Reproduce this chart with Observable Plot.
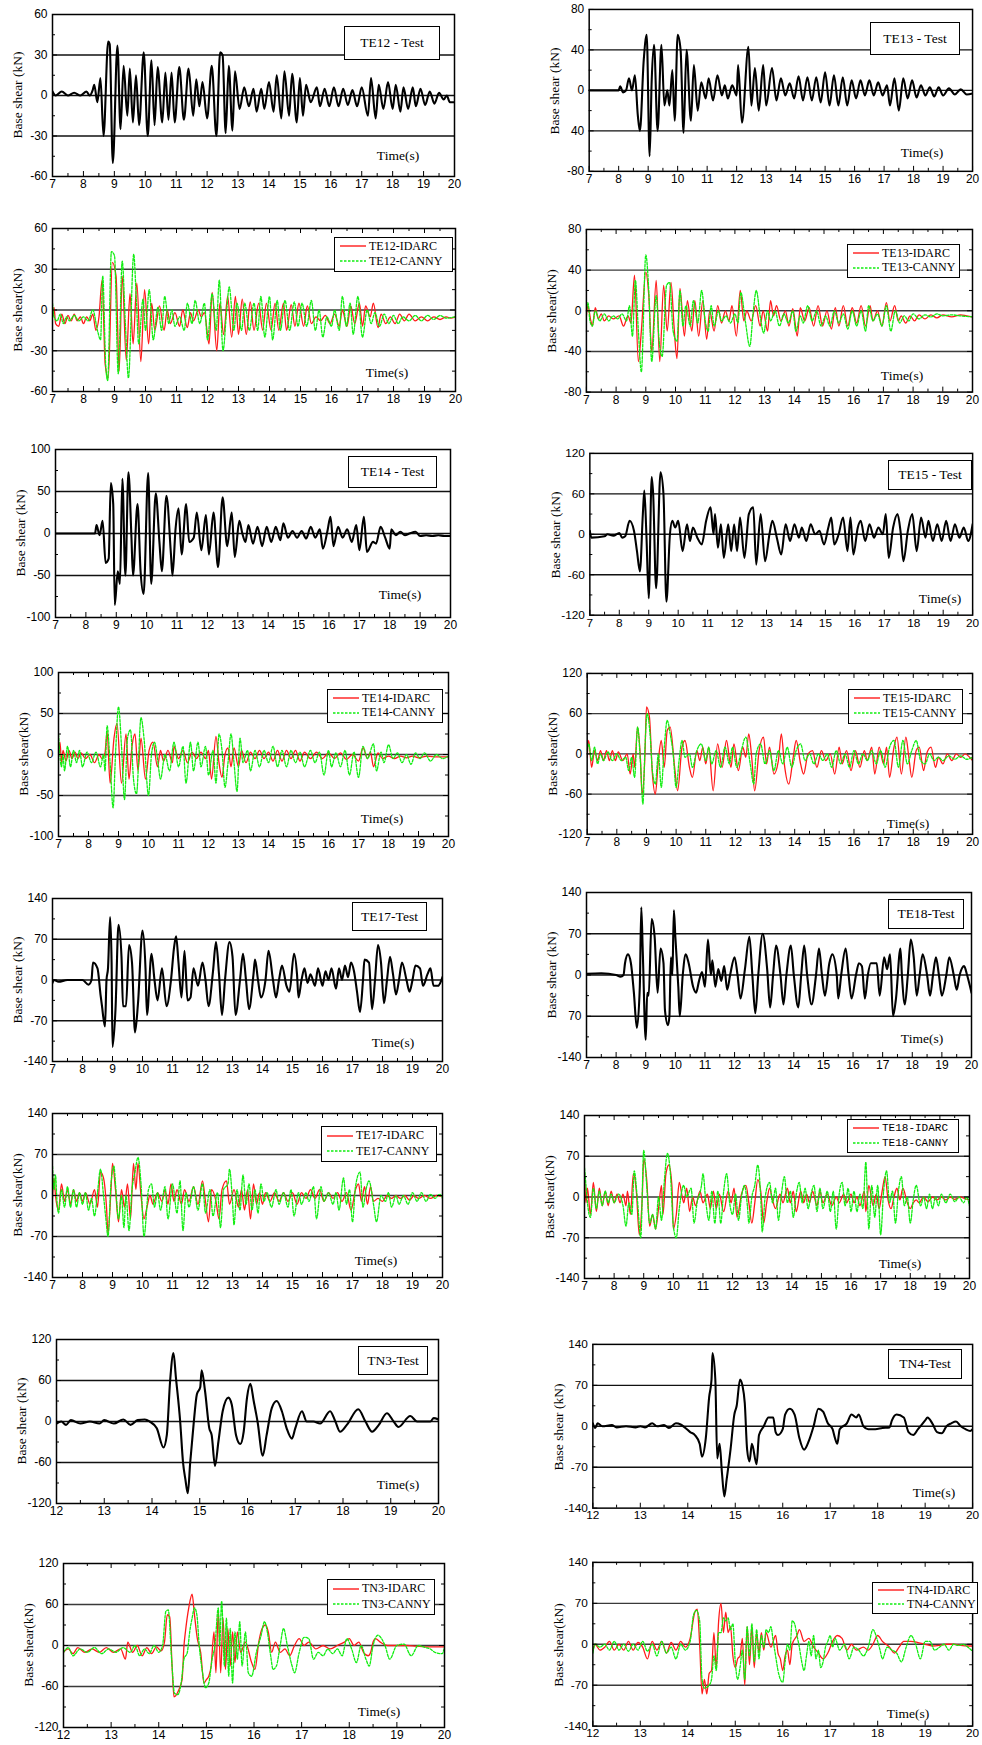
<!DOCTYPE html>
<html><head><meta charset="utf-8">
<script src="https://cdn.jsdelivr.net/npm/d3@7"></script>
<script src="https://cdn.jsdelivr.net/npm/@observablehq/plot@0.6"></script>
<style>
body{margin:0;background:#fff;}
#page{position:relative;width:982px;height:1745px;overflow:hidden;background:#fff;}
.panel{position:absolute;}
.box{position:absolute;background:#fff;border:1.5px solid #000;box-sizing:border-box;font-family:"Liberation Serif","Times New Roman",serif;color:#000;}
.ttl{display:flex;align-items:center;justify-content:center;font-size:13.5px;}
.row{position:absolute;left:0;right:0;height:14px;display:flex;align-items:center;font-size:12px;white-space:nowrap;}
.row svg{margin-left:5px;margin-right:3px;flex:none;}
.tlabel{position:absolute;font-family:"Liberation Serif",serif;font-size:13.5px;transform:translate(-50%,-50%);white-space:nowrap;}
.ylab{position:absolute;font-family:"Liberation Serif",serif;font-size:13.5px;transform:translate(-50%,-50%) rotate(-90deg);white-space:nowrap;}
</style></head>
<body><div id="page"></div>
<script>
// ---------- tick labels ----------
const teTicks = [7,8,9,10,11,12,13,14,15,16,17,18,19,20];
const tnTicks = [12,13,14,15,16,17,18,19,20];
const yLab60 = ["-60","-30","0","30","60"];
const yLab80test = ["-80","40","0","40","80"];
const yLab80 = ["-80","-40","0","40","80"];
const yLab100 = ["-100","-50","0","50","100"];
const yLab120 = ["-120","-60","0","60","120"];
const yLab140 = ["-140","-70","0","70","140"];
const yLab140test18 = ["-140","70","0","70","140"];

// ---------- series: [time, base shear, ...] ----------
const te12Test = [7,3,7.1,0,7.3,3,7.5,0,7.7,2,7.9,0,8.1,3,8.2,0,8.3,4,8.35,8,8.45,-5,8.55,13,8.65,-30,8.8,40,8.85,38,8.95,-50,9.1,37,9.2,-25,9.3,22,9.42,-15,9.5,20,9.6,-20,9.7,15,9.8,-22,9.95,32,10.08,-30,10.2,26,10.3,-22,10.4,21,10.55,-20,10.65,17,10.75,-18,10.85,17,10.95,-20,11.1,21,11.25,-18,11.4,20,11.55,-15,11.65,12,11.75,-8,11.85,10,12,-17,12.15,22,12.3,-30,12.42,32,12.5,30,12.6,-28,12.7,22,12.82,-26,12.9,18,13.05,-10,13.2,6,13.35,-8,13.5,5,13.6,-12,13.75,5,13.85,-10,14,10,14.15,-12,14.25,15,14.4,-17,14.5,18,14.65,-15,14.75,16,14.9,-20,15,13,15.1,-15,15.2,8,15.35,-5,15.55,6,15.65,-8,15.8,5,15.95,-8,16.1,6,16.25,-8,16.4,5,16.55,-7,16.7,4,16.85,-8,17,6,17.2,-15,17.3,13,17.45,-17,17.55,8,17.7,-10,17.85,10,18,-10,18.1,8,18.25,-12,18.35,6,18.5,-10,18.65,6,18.75,-8,18.9,5,19.05,-7,19.2,3,19.35,-6,19.5,2,19.65,-3,19.75,0,19.85,-5,20,-5];
const te12Idarc = [7,-5,7.05,2,7.1,-10,7.2,-12,7.3,-3,7.4,-10,7.5,-4,7.6,-8,7.7,-3,7.8,-8,7.9,-5,8,-10,8.1,-5,8.2,-8,8.3,-3,8.4,-15,8.5,-5,8.6,22,8.7,-40,8.8,-50,8.93,35,9.05,25,9.15,-45,9.25,25,9.38,-37,9.5,12,9.6,-25,9.72,20,9.85,-38,9.97,15,10.1,-25,10.2,5,10.3,-15,10.45,3,10.6,-15,10.7,0,10.8,-10,10.95,-2,11.1,-12,11.2,0,11.35,-13,11.45,-2,11.55,-8,11.7,0,11.8,-5,11.9,-2,12.05,-25,12.15,13,12.3,-30,12.4,5,12.52,-18,12.65,10,12.78,-20,12.9,10,13,-18,13.12,8,13.25,-18,13.38,6,13.5,-15,13.65,5,13.78,-15,13.9,5,14.05,-15,14.18,5,14.3,-15,14.45,5,14.55,-15,14.7,4,14.82,-12,14.95,5,15.1,-12,15.22,3,15.35,-10,15.5,-5,15.65,-8,15.8,-4,15.95,-10,16.1,-3,16.25,-12,16.35,0,16.5,-12,16.62,3,16.75,-10,16.9,5,17,-12,17.1,3,17.25,-5,17.35,5,17.5,-13,17.6,-3,17.75,-10,17.9,-5,18.05,-10,18.2,-3,18.35,-8,18.5,-3,18.7,-8,18.9,-5,19.1,-8,19.3,-5,19.5,-7,19.7,-5,19.85,-6,20,-5];
const te12Canny = [7,5,7.05,-5,7.15,-8,7.25,-3,7.35,-10,7.45,-5,7.55,-8,7.7,-4,7.85,-8,8,-5,8.15,-8,8.3,0,8.45,-15,8.55,-22,8.62,25,8.72,-42,8.78,-52,8.9,43,9,40,9.12,-47,9.25,36,9.35,-10,9.45,-50,9.62,41,9.7,10,9.78,-25,9.92,8,10,-15,10.12,15,10.25,-22,10.4,2,10.52,-15,10.62,10,10.75,-10,10.85,0,10.95,-12,11.1,-5,11.25,-15,11.35,5,11.5,-10,11.6,7,11.75,-10,11.9,5,12,-22,12.15,12,12.28,-15,12.38,22,12.5,-30,12.62,0,12.7,17,12.85,-15,12.95,5,13.1,-15,13.2,5,13.35,-15,13.5,5,13.62,-15,13.72,10,13.85,-20,14,10,14.1,-22,14.25,7,14.35,-15,14.5,7,14.65,-15,14.8,6,14.92,-12,15.05,5,15.2,-12,15.35,7,15.48,-15,15.6,0,15.72,-20,15.85,-5,16,-12,16.1,0,16.25,-15,16.35,10,16.48,-12,16.6,5,16.7,-18,16.85,10,17,-20,17.15,0,17.28,-10,17.4,-2,17.55,-12,17.7,-3,17.85,-10,18,-4,18.15,-10,18.3,-5,18.5,-8,18.7,-4,18.9,-8,19.1,-4,19.3,-7,19.5,-4,19.7,-6,20,-5];

const te13Test = [7,0,8,0,8.05,4,8.15,-2,8.25,0,8.35,12,8.45,0,8.55,15,8.65,-25,8.72,-40,8.85,30,8.95,55,9.05,-65,9.12,10,9.2,45,9.32,-40,9.45,45,9.55,-15,9.65,0,9.72,-15,9.82,20,9.9,-30,10,55,10.1,40,10.2,-42,10.3,40,10.45,-30,10.55,25,10.68,-20,10.8,8,10.95,-8,11.05,12,11.2,-10,11.35,15,11.5,-5,11.6,5,11.7,-8,11.85,5,12,-5,12.05,25,12.18,-32,12.4,43,12.5,-15,12.62,22,12.75,-20,12.9,25,13,-15,13.2,22,13.35,-10,13.5,12,13.65,-5,13.8,7,13.95,-8,14.1,14,14.25,-10,14.4,13,14.55,-10,14.7,13,14.85,-12,15,18,15.15,-15,15.3,15,15.45,-15,15.6,13,15.75,-15,15.9,10,16.05,-8,16.2,10,16.35,-5,16.5,10,16.65,-5,16.8,8,16.95,-5,17.1,5,17.2,-15,17.35,12,17.5,-20,17.65,12,17.8,-8,17.95,10,18.1,-7,18.25,5,18.4,-5,18.55,3,18.7,-6,18.85,3,19,-5,19.2,2,19.4,-4,19.6,1,19.8,-4,20,-3];
const te13Idarc = [7,-5,7.05,5,7.15,-10,7.2,-15,7.3,3,7.4,-8,7.5,-3,7.6,-10,7.75,-5,7.9,-8,8.1,-5,8.25,-15,8.4,-5,8.5,-12,8.62,35,8.75,-50,8.85,-20,9,38,9.1,15,9.2,-40,9.35,30,9.47,-50,9.6,25,9.72,-20,9.85,28,9.95,-15,10.05,-47,10.15,22,10.3,-25,10.4,10,10.55,-20,10.65,10,10.78,-25,10.92,10,11.05,-28,11.15,0,11.3,-20,11.42,5,11.55,-12,11.68,0,11.8,-10,11.9,5,12.05,-25,12.18,20,12.3,-10,12.4,0,12.55,-10,12.7,5,12.85,-15,12.95,0,13.1,-20,13.2,10,13.3,-5,13.4,5,13.55,-10,13.7,0,13.82,-15,13.95,2,14.1,-25,14.2,3,14.35,-10,14.5,3,14.65,-15,14.8,5,14.95,-15,15.1,0,15.25,-18,15.38,3,15.5,-15,15.65,5,15.8,-15,15.95,3,16.1,-12,16.25,5,16.4,-15,16.55,5,16.65,-10,16.8,0,16.95,-15,17.1,8,17.22,-10,17.38,5,17.5,-10,17.6,-5,17.75,-12,17.9,-5,18.05,-10,18.2,-4,18.4,-8,18.6,-4,18.8,-7,19,-4,19.3,-6,19.6,-4,19.8,-5,20,-6];
const te13Canny = [7,0,7.05,8,7.12,-10,7.2,-15,7.3,0,7.45,-10,7.6,-3,7.75,-10,7.9,-5,8.05,-8,8.2,-3,8.35,-10,8.45,5,8.55,-25,8.65,30,8.75,-20,8.85,-60,9,55,9.1,20,9.2,-50,9.35,15,9.45,-30,9.55,-45,9.7,25,9.8,28,9.92,-20,10.05,-30,10.15,20,10.25,-15,10.35,5,10.5,-15,10.6,10,10.75,-12,10.88,20,11,-10,11.1,-20,11.2,5,11.3,-15,11.45,0,11.55,-10,11.7,-5,11.85,-12,12,-3,12.1,-12,12.2,18,12.35,-10,12.5,-35,12.62,0,12.72,20,12.85,-5,12.97,-22,13.1,0,13.2,-10,13.35,0,13.5,-15,13.65,-3,13.8,-12,13.95,0,14.05,-20,14.2,-5,14.3,-12,14.45,5,14.6,-10,14.75,0,14.9,-15,15.05,-5,15.2,-15,15.35,0,15.5,-12,15.65,-3,15.8,-18,15.95,0,16.1,-15,16.25,0,16.4,-20,16.5,5,16.65,-10,16.8,-3,16.95,-15,17.1,5,17.25,-20,17.4,0,17.55,-12,17.7,-5,17.85,-10,18,-3,18.2,-8,18.4,-4,18.6,-6,18.8,-3,19,-5,19.3,-4,19.6,-5,20,-6];

const te14Test = [7,0,8.3,0,8.35,10,8.45,-2,8.55,15,8.65,-35,8.75,-30,8.82,60,8.9,35,8.95,-85,9.05,-45,9.12,-60,9.2,65,9.3,-50,9.4,73,9.5,-5,9.55,-50,9.7,35,9.8,-45,9.9,-72,10.05,72,10.15,-60,10.3,48,10.42,-10,10.5,-45,10.65,45,10.8,-25,10.85,-50,10.95,5,11.05,30,11.15,-25,11.3,35,11.4,-10,11.55,-5,11.65,25,11.8,-20,11.95,22,12.05,-25,12.2,25,12.35,-40,12.5,43,12.65,-15,12.8,25,12.9,-28,13.05,15,13.15,0,13.25,-10,13.35,10,13.5,-12,13.65,8,13.8,-15,13.95,8,14.1,-10,14.25,8,14.4,-8,14.5,12,14.65,-5,14.8,3,14.95,-5,15.1,3,15.25,-6,15.4,8,15.55,-5,15.7,5,15.8,-18,15.95,3,16.05,20,16.15,-15,16.3,8,16.45,-5,16.6,5,16.75,-10,16.9,10,17,-20,17.15,20,17.25,-22,17.45,-10,17.55,-12,17.7,8,17.85,-5,18,-18,18.05,5,18.2,-2,18.35,2,18.5,-2,18.65,0,18.85,2,19,-3,19.2,-2,19.4,-3,19.6,-2,19.8,-3,20,-3];
const te14Idarc = [7,0,7.05,15,7.1,-10,7.15,5,7.25,-8,7.35,5,7.45,-5,7.55,3,7.65,-5,7.75,2,7.9,-5,8.05,0,8.2,-10,8.35,0,8.45,-5,8.55,2,8.62,28,8.72,-35,8.85,20,8.95,38,9.1,-35,9.25,25,9.35,-30,9.45,10,9.55,25,9.65,-20,9.75,20,9.9,-30,10.02,5,10.15,15,10.3,-15,10.4,5,10.5,-8,10.65,5,10.8,-10,10.85,10,11,-5,11.15,5,11.3,-10,11.45,3,11.6,-5,11.75,3,11.9,-5,12,5,12.1,-30,12.25,22,12.35,-10,12.45,-28,12.55,0,12.65,8,12.75,-15,12.85,8,13,-15,13.1,5,13.25,-10,13.4,3,13.55,-5,13.7,5,13.85,-5,14,3,14.15,-8,14.3,5,14.45,-8,14.6,5,14.75,-5,14.9,5,15.05,-8,15.2,3,15.4,-5,15.6,3,15.8,-5,16,2,16.2,-5,16.4,2,16.6,-6,16.8,0,17,-8,17.15,8,17.3,-5,17.4,3,17.5,-15,17.65,2,17.8,-5,18,-2,18.2,-5,18.4,-2,18.6,-4,18.8,-2,19,-4,19.3,-2,19.6,-3,20,-3];
const te14Canny = [7,25,7.1,-15,7.15,0,7.2,-20,7.3,10,7.4,-15,7.5,5,7.6,-10,7.7,5,7.8,-15,7.95,3,8.1,-10,8.25,3,8.4,-15,8.5,0,8.55,-20,8.62,35,8.72,-10,8.82,-65,8.9,0,9,58,9.1,10,9.2,-55,9.3,20,9.4,30,9.5,-30,9.6,-48,9.75,45,9.85,20,10,-50,10.1,0,10.2,15,10.3,-5,10.4,-30,10.55,0,10.7,-20,10.85,15,11,-15,11.15,10,11.25,-35,11.4,15,11.5,-20,11.65,15,11.75,-15,11.9,10,12,-25,12.15,5,12.25,-35,12.35,25,12.45,5,12.55,-40,12.65,-10,12.75,25,12.85,-10,12.95,-45,13.05,20,13.15,-10,13.3,5,13.4,-20,13.55,5,13.7,-15,13.85,5,14,-10,14.15,10,14.3,-15,14.45,5,14.6,-15,14.75,5,14.9,-10,15.05,3,15.2,-15,15.4,5,15.55,-10,15.7,3,15.85,-25,16,5,16.1,-15,16.25,2,16.4,-15,16.55,5,16.7,-25,16.85,3,17,-28,17.15,10,17.3,-5,17.5,13,17.6,-20,17.75,3,17.85,-10,18,12,18.15,-5,18.3,2,18.45,-10,18.6,0,18.75,-12,18.9,2,19.05,-5,19.2,2,19.4,-8,19.6,0,19.8,-5,20,-2];

const te15Test = [7,5,7.05,-5,7.5,-3,7.6,0,7.8,-2,8,2,8.1,-5,8.2,-3,8.35,20,8.5,5,8.6,-25,8.7,-55,8.8,30,8.85,65,8.92,0,9,-95,9.1,85,9.15,60,9.25,-80,9.4,92,9.5,60,9.6,-100,9.72,0,9.8,20,9.9,10,10,20,10.15,-25,10.3,15,10.4,-10,10.5,10,10.65,-5,10.8,-15,10.95,20,11.1,40,11.2,0,11.25,30,11.35,-20,11.45,15,11.55,-35,11.7,15,11.8,-25,11.9,15,12,-25,12.1,25,12.25,-35,12.4,30,12.55,40,12.65,-45,12.8,30,12.95,-40,13.1,0,13.2,20,13.35,-5,13.5,-30,13.65,15,13.8,-10,13.95,15,14.1,-5,14.2,10,14.35,-10,14.5,15,14.65,0,14.8,5,14.95,-15,15.1,10,15.2,25,15.3,-15,15.45,0,15.6,25,15.75,-25,15.85,25,15.95,-30,16.1,10,16.2,20,16.35,-10,16.5,15,16.65,-5,16.8,10,16.95,0,17.05,30,17.15,-35,17.3,10,17.45,30,17.55,5,17.65,-40,17.8,5,17.95,30,18.1,-25,18.25,25,18.4,-5,18.5,20,18.65,-10,18.8,15,18.95,-10,19.1,20,19.25,-10,19.4,15,19.55,-5,19.7,10,19.85,-10,20,15];
const te15Idarc = [7,-5,7.05,20,7.15,-20,7.25,5,7.35,-10,7.45,5,7.55,-10,7.65,5,7.75,-10,7.85,5,7.95,-10,8.05,3,8.2,-10,8.35,0,8.45,-30,8.55,0,8.6,-20,8.7,40,8.8,-10,8.85,-60,8.95,0,9,70,9.1,55,9.2,-30,9.3,-60,9.4,-10,9.5,20,9.6,-20,9.7,35,9.8,40,9.95,-20,10.05,-55,10.2,10,10.3,20,10.45,-20,10.55,-35,10.7,5,10.8,-10,10.9,10,11,-15,11.1,10,11.25,-55,11.4,15,11.55,-20,11.7,20,11.85,-20,11.95,15,12.1,-25,12.25,10,12.35,-5,12.45,30,12.55,-5,12.65,-55,12.8,5,12.95,25,13.05,-15,13.15,10,13.3,-30,13.45,-10,13.55,30,13.65,-15,13.8,-45,13.95,-5,14.05,20,14.2,-15,14.3,-30,14.45,0,14.6,5,14.75,-20,14.9,5,15.05,-10,15.2,0,15.35,-30,15.5,10,15.6,-15,15.75,5,15.9,-25,16.05,5,16.2,-20,16.35,5,16.45,-10,16.6,10,16.7,-30,16.85,10,17,-15,17.1,10,17.2,-35,17.35,10,17.45,25,17.6,-30,17.75,25,17.85,-5,17.95,-35,18.1,5,18.2,10,18.35,-25,18.45,0,18.6,10,18.75,-20,18.85,-5,19,-15,19.15,0,19.3,-10,19.45,0,19.6,-5,19.75,0,19.9,-5,20,-10];
const te15Canny = [7,5,7.05,15,7.15,-10,7.25,10,7.35,-15,7.45,0,7.55,-10,7.7,3,7.85,-10,8,0,8.15,-10,8.3,-5,8.4,-25,8.5,-5,8.6,-35,8.7,40,8.8,-15,8.88,-75,8.95,10,9.02,60,9.12,30,9.2,-25,9.3,-45,9.4,0,9.5,-50,9.6,10,9.7,50,9.8,30,9.9,0,10,-50,10.1,-10,10.2,20,10.3,-5,10.45,0,10.55,-20,10.7,5,10.85,15,11,-10,11.1,10,11.2,-15,11.35,5,11.5,-20,11.65,10,11.8,-15,11.9,10,12.05,-20,12.2,5,12.35,25,12.5,-15,12.62,-45,12.7,0,12.85,15,13,-15,13.15,5,13.3,-25,13.45,5,13.6,-15,13.75,10,13.9,-20,14.05,5,14.2,15,14.35,-10,14.5,0,14.65,-15,14.8,0,14.95,-10,15.1,0,15.25,-20,15.4,5,15.55,-15,15.7,0,15.85,-20,16,5,16.15,-15,16.3,0,16.45,-10,16.6,5,16.75,-15,16.9,5,17.05,-20,17.2,10,17.35,20,17.5,-20,17.65,20,17.8,-15,17.95,5,18.1,20,18.25,-10,18.4,-15,18.55,0,18.7,-10,18.85,-5,19,-10,19.2,-3,19.4,-8,19.6,-3,19.8,-8,20,-5];

const te17Test = [7,-5,7.05,0,7.2,-3,7.5,0,8,0,8.2,-8,8.3,0,8.35,30,8.5,20,8.6,-25,8.65,-45,8.75,-80,8.8,0,8.85,20,8.92,108,8.97,30,9,-115,9.1,-50,9.2,95,9.3,40,9.35,-45,9.45,-45,9.55,60,9.65,30,9.75,-90,9.85,-40,10,85,10.1,20,10.15,-60,10.3,45,10.4,0,10.5,-35,10.65,20,10.8,-45,10.95,0,11.05,55,11.12,75,11.2,30,11.3,-30,11.4,50,11.5,-35,11.6,-30,11.7,20,11.85,-10,12,30,12.1,0,12.2,-45,12.35,15,12.45,65,12.55,10,12.65,-60,12.75,0,12.9,65,13,40,13.1,-60,13.25,0,13.35,45,13.45,0,13.55,-50,13.7,10,13.75,35,13.85,0,13.95,-30,14.1,0,14.2,50,14.35,0,14.45,-30,14.55,0,14.65,25,14.8,-10,14.9,-20,15.05,45,15.15,10,15.2,-30,15.3,0,15.4,20,15.5,-5,15.6,10,15.75,-10,15.85,20,16,-10,16.1,15,16.2,0,16.3,20,16.45,-15,16.55,20,16.65,0,16.75,25,16.85,5,16.95,30,17.05,15,17.15,-20,17.25,-55,17.35,0,17.4,35,17.55,30,17.65,-50,17.75,0,17.85,60,17.95,30,18.05,-40,18.15,0,18.25,40,18.35,10,18.45,-25,18.55,0,18.65,30,18.8,0,18.9,-20,19,0,19.1,25,19.25,20,19.35,-10,19.5,10,19.6,20,19.7,-10,19.85,-10,20,5];
const te17Idarc = [7,-5,7.05,30,7.1,0,7.2,-25,7.3,20,7.4,-10,7.5,10,7.6,-15,7.7,10,7.8,-10,7.9,5,8,-10,8.1,5,8.25,-15,8.4,10,8.5,-20,8.6,40,8.7,30,8.8,-20,8.85,-65,8.95,10,9,55,9.1,10,9.2,-45,9.3,10,9.4,-20,9.5,20,9.6,-40,9.7,55,9.78,10,9.85,55,9.95,0,10.05,-40,10.15,-20,10.25,0,10.35,-15,10.5,5,10.65,-10,10.75,10,10.85,-15,10.95,20,11.05,-10,11.15,10,11.3,-15,11.4,10,11.55,-10,11.7,15,11.85,-15,12,25,12.1,-10,12.2,-45,12.3,10,12.45,-10,12.55,-40,12.65,10,12.8,25,12.9,-15,13.05,10,13.2,-20,13.3,10,13.4,-25,13.5,10,13.6,-40,13.7,20,13.8,-15,13.9,5,14,-15,14.1,5,14.25,-10,14.4,5,14.55,-10,14.7,5,14.85,-10,15,5,15.15,-15,15.3,5,15.45,-5,15.6,10,15.75,-5,15.9,10,16.05,-10,16.2,5,16.35,-5,16.5,5,16.65,-10,16.8,5,16.95,-25,17.1,10,17.2,20,17.3,-10,17.4,15,17.5,-15,17.6,15,17.7,-10,17.85,-5,18,-10,18.15,0,18.3,-5,18.45,0,18.6,-5,18.75,0,18.9,-8,19.05,0,19.2,-5,19.4,0,19.6,-5,19.8,0,20,-2];
const te17Canny = [7,50,7.05,10,7.1,35,7.15,-10,7.2,-30,7.3,10,7.4,-20,7.5,15,7.6,-20,7.7,10,7.8,-20,7.9,5,8,-15,8.1,5,8.2,-25,8.3,-5,8.4,-35,8.5,5,8.6,45,8.7,0,8.78,-40,8.85,-70,8.95,20,9.05,50,9.1,20,9.2,-40,9.3,0,9.38,-55,9.45,0,9.55,-60,9.65,10,9.75,40,9.85,65,9.95,20,10.05,-70,10.2,10,10.3,20,10.4,-20,10.5,5,10.6,-25,10.75,15,10.85,-40,11,20,11.15,-30,11.25,25,11.35,-60,11.45,5,11.55,-20,11.7,15,11.85,-25,12,20,12.1,-30,12.25,10,12.35,-35,12.5,5,12.6,-55,12.7,10,12.85,20,12.9,45,13,-10,13.05,-50,13.15,10,13.25,-25,13.35,35,13.45,-15,13.55,20,13.65,-25,13.75,10,13.85,-30,13.95,20,14.05,-10,14.15,5,14.3,-20,14.45,10,14.55,-15,14.7,5,14.85,-20,14.95,10,15.05,-35,15.2,5,15.3,-15,15.45,5,15.55,-10,15.7,15,15.8,-40,15.95,15,16.05,-10,16.2,5,16.35,-15,16.45,5,16.55,-25,16.7,30,16.8,-15,16.9,10,17,-45,17.1,15,17.25,40,17.35,-20,17.45,10,17.55,25,17.7,-15,17.8,-45,17.95,0,18.1,-10,18.2,5,18.3,-20,18.45,0,18.55,-15,18.7,0,18.85,-15,19,5,19.15,-10,19.3,5,19.45,-10,19.6,2,19.75,-5,19.9,2,20,-5];

const te18Test = [7,2,7.5,3,8,0,8.15,-3,8.25,0,8.3,20,8.4,35,8.5,20,8.6,-30,8.7,-90,8.8,-20,8.85,115,8.9,40,9,-110,9.05,-30,9.1,-35,9.2,95,9.3,65,9.4,-30,9.5,45,9.6,20,9.65,-60,9.75,-85,9.8,-70,9.85,30,9.9,0,9.95,110,10,65,10.1,-20,10.15,-70,10.25,0,10.35,35,10.45,20,10.6,-20,10.7,-30,10.8,-10,10.9,5,11,-20,11.1,60,11.2,0,11.25,25,11.35,-20,11.45,10,11.55,-10,11.65,15,11.75,-25,11.85,0,12,30,12.1,0,12.2,-40,12.35,10,12.5,65,12.6,0,12.7,-65,12.8,0,12.95,70,13.1,10,13.2,-55,13.3,0,13.4,50,13.55,0,13.65,-50,13.75,0,13.9,50,14,0,14.15,-55,14.25,0,14.35,50,14.45,0,14.6,-50,14.75,0,14.85,45,14.95,0,15.05,-35,15.2,20,15.3,35,15.45,0,15.5,-40,15.6,0,15.75,45,15.85,0,15.95,-40,16.1,0,16.2,20,16.3,15,16.4,-40,16.5,0,16.6,20,16.8,20,16.9,-35,17.05,30,17.15,10,17.25,35,17.35,-70,17.45,-40,17.6,45,17.65,0,17.75,-50,17.85,0,17.95,60,18.05,30,18.15,-35,18.25,0,18.35,35,18.5,0,18.6,-35,18.7,0,18.8,30,18.9,0,19,-35,19.15,0,19.25,30,19.4,0,19.5,-25,19.6,0,19.75,15,19.85,0,20,-30];
const te18Idarc = [7,40,7.05,-10,7.1,15,7.2,-30,7.3,25,7.4,-25,7.5,15,7.6,-15,7.7,10,7.8,-15,7.9,10,8,-10,8.1,5,8.2,-10,8.3,5,8.4,-15,8.45,10,8.55,-30,8.65,40,8.75,10,8.85,-65,8.95,0,9,65,9.1,30,9.2,-50,9.3,-30,9.4,-55,9.5,-20,9.6,20,9.65,-30,9.75,40,9.85,55,9.95,20,10,-55,10.1,-30,10.2,25,10.3,0,10.35,-10,10.45,15,10.55,-25,10.65,0,10.75,-15,10.9,10,11,-10,11.15,5,11.25,-20,11.35,10,11.45,-20,11.55,5,11.7,-25,11.85,10,11.95,-10,12.05,15,12.15,-35,12.3,5,12.45,20,12.55,-10,12.65,-45,12.75,-10,12.85,30,12.95,10,13.05,-45,13.15,-10,13.25,15,13.35,-5,13.45,-20,13.6,5,13.7,-10,13.85,15,13.95,-10,14.05,10,14.15,-25,14.3,10,14.4,-10,14.5,5,14.6,-10,14.7,10,14.85,-15,14.95,10,15.05,-10,15.2,5,15.35,-15,15.5,0,15.6,-10,15.75,5,15.85,-10,16,5,16.1,-10,16.2,0,16.3,-15,16.45,10,16.5,-25,16.6,20,16.75,-15,16.85,5,16.95,-20,17.05,10,17.15,35,17.25,-5,17.35,-20,17.45,0,17.55,15,17.65,-5,17.75,15,17.9,-10,18,-20,18.1,-10,18.2,-5,18.3,-10,18.45,0,18.6,-8,18.75,0,18.9,-5,19.05,0,19.2,-5,19.35,0,19.5,-4,19.7,0,19.85,-3,20,-5];
const te18Canny = [7,50,7.05,20,7.1,-10,7.2,-35,7.3,15,7.4,-20,7.5,10,7.6,-15,7.7,10,7.8,-10,7.9,5,8,-10,8.15,5,8.3,-15,8.4,-50,8.5,-10,8.6,-30,8.68,45,8.78,0,8.9,-70,9,80,9.1,20,9.2,-45,9.3,-30,9.4,-55,9.5,0,9.6,-40,9.7,30,9.8,75,9.9,40,10,-50,10.1,-70,10.2,-20,10.35,20,10.45,0,10.6,15,10.7,-45,10.8,-10,10.95,20,11,40,11.1,-10,11.2,-40,11.3,10,11.4,-45,11.5,10,11.6,-45,11.7,10,11.8,40,11.9,-10,12,-30,12.1,5,12.2,-40,12.3,0,12.4,20,12.5,-15,12.55,-45,12.65,0,12.75,20,12.85,55,12.95,0,13,-60,13.1,0,13.25,25,13.35,-10,13.45,15,13.55,-40,13.65,5,13.75,35,13.85,-10,13.95,10,14.05,-35,14.15,5,14.25,25,14.35,-10,14.45,15,14.55,-20,14.65,5,14.75,20,14.85,-25,14.95,15,15.05,-20,15.2,10,15.3,-25,15.4,10,15.5,-55,15.6,5,15.7,25,15.8,-15,15.9,15,16,-25,16.1,10,16.2,-25,16.3,5,16.4,-20,16.5,60,16.55,0,16.6,-55,16.7,20,16.8,-35,16.9,20,17,-65,17.1,10,17.2,45,17.3,-10,17.4,10,17.5,-45,17.6,10,17.7,35,17.8,-15,17.9,0,18,-45,18.1,-5,18.2,20,18.35,-15,18.45,0,18.55,-20,18.65,5,18.75,-20,18.85,0,18.95,-15,19.05,5,19.2,-10,19.35,5,19.5,-8,19.65,0,19.8,-10,19.9,0,20,-15];

const tn3Test = [12,-3,12.1,0,12.2,-5,12.3,2,12.5,-3,12.7,0,12.9,-3,13,2,13.2,-3,13.4,3,13.55,-5,13.7,2,13.85,3,13.95,0,14.1,-10,14.24,-38,14.31,-20,14.38,60,14.45,100,14.5,65,14.59,0,14.65,-60,14.7,-85,14.75,-105,14.8,-60,14.87,-5,14.94,40,15.01,50,15.04,75,15.11,45,15.2,-10,15.25,-20,15.32,-65,15.39,-30,15.48,15,15.6,35,15.67,25,15.76,-20,15.85,-33,15.92,-15,15.99,35,16.06,55,16.13,30,16.21,0,16.32,-50,16.4,-20,16.51,20,16.61,30,16.72,15,16.82,-10,16.93,-25,17,-10,17.14,15,17.24,0,17.38,0,17.52,-3,17.73,15,17.84,0,17.94,-15,18.08,-5,18.32,18,18.47,0,18.61,-15,18.75,-5,18.92,12,19.06,0,19.16,-8,19.41,8,19.55,0,19.83,0,19.9,5,20,3];
const tn3Idarc = [12,-10,12.1,-5,12.2,-12,12.3,-3,12.45,-10,12.6,-5,12.75,-10,12.9,-3,13.05,-10,13.2,-5,13.3,-20,13.35,5,13.45,-10,13.55,0,13.65,-15,13.75,-3,13.85,-12,13.95,-2,14.05,-8,14.12,5,14.18,45,14.23,42,14.28,-30,14.32,-75,14.42,-65,14.49,-50,14.53,0,14.56,20,14.63,55,14.7,75,14.75,45,14.81,10,14.88,-10,14.95,-55,15,-50,15.05,-45,15.1,-30,15.16,20,15.2,-40,15.25,50,15.3,-40,15.35,40,15.4,-35,15.45,25,15.5,-30,15.55,20,15.6,-25,15.65,20,15.72,-10,15.82,5,15.95,-25,16.02,-35,16.1,5,16.17,25,16.24,30,16.3,20,16.37,-10,16.45,5,16.55,-10,16.65,-5,16.75,-15,16.85,0,16.95,10,17.05,0,17.15,5,17.3,-5,17.45,0,17.6,-5,17.75,0,17.9,5,18,10,18.1,0,18.2,5,18.3,-10,18.4,-15,18.45,-10,18.5,5,18.55,10,18.65,5,18.8,0,19,0,19.2,0,19.4,-1,19.6,-2,19.8,-2,20,-2];
const tn3Canny = [12,-10,12.1,-3,12.2,-15,12.35,-5,12.5,-10,12.65,-3,12.8,-12,12.95,-5,13.1,-10,13.25,-3,13.4,-10,13.5,0,13.6,-15,13.7,-5,13.8,-12,13.9,0,14,-10,14.08,0,14.15,50,14.2,52,14.27,-20,14.33,-70,14.4,-72,14.47,-55,14.53,-20,14.6,-10,14.65,20,14.7,40,14.75,55,14.8,45,14.85,0,14.92,-40,14.98,-62,15.05,-55,15.12,-20,15.18,0,15.25,55,15.28,0,15.32,65,15.38,-30,15.42,40,15.47,-45,15.5,25,15.55,-55,15.6,20,15.65,-20,15.7,35,15.75,-30,15.82,20,15.88,-40,15.95,-45,16.05,-10,16.15,15,16.22,35,16.28,20,16.35,-15,16.4,-35,16.47,-30,16.55,0,16.62,25,16.7,0,16.8,-30,16.85,-40,16.95,-10,17.05,12,17.15,10,17.25,-20,17.35,-10,17.45,-15,17.55,-5,17.65,-12,17.75,-5,17.85,-15,17.95,10,18.05,-5,18.15,-25,18.25,0,18.35,-20,18.42,-30,18.5,0,18.6,15,18.75,0,18.85,-20,19,0,19.15,2,19.3,-15,19.45,0,19.6,-3,19.7,-5,19.8,-10,19.95,-12,20,-2];

const tn4Test = [12,5,12.05,-3,12.1,5,12.2,0,12.4,2,12.5,-2,12.7,0,12.9,-2,13,0,13.1,-2,13.25,5,13.35,0,13.5,2,13.6,-3,13.75,5,13.85,3,13.95,-3,14.05,-10,14.15,-15,14.25,-30,14.3,-52,14.38,-20,14.45,50,14.5,80,14.52,125,14.58,80,14.62,-55,14.67,-30,14.72,-80,14.77,-120,14.82,-90,14.9,-40,14.98,20,15.03,35,15.1,80,15.15,70,15.2,40,15.25,-40,15.3,-60,15.35,-30,15.45,-65,15.5,-15,15.6,0,15.7,15,15.8,15,15.85,-10,15.9,-15,16,-5,16.05,20,16.15,30,16.25,20,16.35,-20,16.45,-40,16.55,-25,16.65,0,16.75,30,16.85,25,16.95,5,17.05,-5,17.1,-20,17.15,-30,17.2,-5,17.35,5,17.45,20,17.55,15,17.6,20,17.7,0,17.8,-5,17.95,-5,18.1,-3,18.25,-2,18.3,10,18.4,20,18.55,15,18.65,-10,18.75,-15,18.85,-5,19,10,19.05,15,19.15,5,19.25,-10,19.35,-12,19.45,0,19.55,5,19.65,8,19.75,0,19.85,-5,19.95,-8,20,-5];
const tn4Idarc = [12,-10,12.05,0,12.15,-10,12.25,-5,12.35,5,12.45,-10,12.55,0,12.65,-10,12.75,5,12.85,-10,12.95,3,13.05,-5,13.15,-25,13.25,5,13.35,-10,13.45,5,13.55,-15,13.65,3,13.75,-10,13.85,5,13.95,-5,14.05,10,14.15,55,14.2,60,14.25,0,14.3,-85,14.35,-60,14.4,-85,14.45,-50,14.5,-45,14.55,20,14.6,-40,14.65,40,14.7,70,14.75,20,14.8,55,14.85,20,14.9,30,14.95,-20,15,-40,15.05,-25,15.1,-20,15.15,10,15.2,-70,15.25,30,15.3,-35,15.35,30,15.4,-40,15.45,20,15.5,-15,15.55,20,15.6,-10,15.65,20,15.75,-5,15.85,15,15.9,-15,15.95,-25,16,-45,16.05,-20,16.1,-10,16.15,-35,16.2,0,16.3,15,16.35,25,16.45,5,16.55,10,16.65,-5,16.75,-15,16.85,-25,16.95,-15,17.05,5,17.15,15,17.25,10,17.35,-10,17.45,0,17.55,-10,17.7,-5,17.8,-10,17.9,0,18,15,18.1,5,18.25,-5,18.35,-15,18.45,-5,18.55,5,18.7,5,18.85,3,19,0,19.15,-3,19.3,-2,19.45,0,19.6,0,19.75,-2,19.9,-3,20,-3];
const tn4Canny = [12,-15,12.05,0,12.15,-5,12.25,0,12.35,-10,12.45,5,12.55,-10,12.65,0,12.75,-12,12.85,0,12.95,-10,13.05,5,13.15,-12,13.25,0,13.35,-20,13.45,5,13.55,-15,13.65,-5,13.75,-25,13.85,0,13.95,-10,14.05,5,14.12,50,14.18,58,14.25,40,14.3,-60,14.35,-75,14.45,-70,14.5,-60,14.55,-20,14.6,-45,14.65,20,14.7,20,14.75,45,14.8,40,14.85,45,14.9,25,14.95,35,15,-30,15.05,-60,15.1,-40,15.15,-10,15.2,-60,15.25,30,15.3,-20,15.35,35,15.4,-30,15.45,25,15.5,-25,15.55,15,15.6,-5,15.65,25,15.7,20,15.75,30,15.8,5,15.85,-20,15.9,-45,15.95,-60,16,-65,16.05,-30,16.1,0,16.15,-10,16.2,40,16.25,35,16.3,15,16.35,-5,16.4,-30,16.45,-45,16.5,-20,16.55,5,16.6,-20,16.65,15,16.7,-25,16.75,-10,16.8,-40,16.85,-30,16.9,-5,16.95,5,17,15,17.05,-5,17.1,10,17.2,-10,17.3,0,17.4,-25,17.5,-5,17.6,-10,17.7,-20,17.8,-5,17.9,25,18,5,18.05,-10,18.1,-25,18.2,-5,18.3,-10,18.4,-15,18.5,-30,18.6,-5,18.7,15,18.8,0,18.9,-25,19,5,19.1,5,19.2,-10,19.3,-5,19.4,0,19.5,-10,19.6,0,19.7,-2,19.8,0,19.9,-5,20,-12];

// ---------- layout ----------
const RED = "#ff1a1a", GREEN = "#11ee11";
const test = d => [{data: d, color: "#000", width: 2.1, dash: null}];
const model = (a, b) => [{data: a, color: RED, width: 1.3, dash: null}, {data: b, color: GREEN, width: 1.3, dash: "2.5,1.5"}];

const panels = [
  {f:[52,454,14,176], x:[7,20], xt:teTicks, y:[-60,60], yl:yLab60, s:test(te12Test), title:"TE12 - Test", box:[344,26,440,60], time:[398,156]},
  {f:[52,455,228,391], x:[7,20], xt:teTicks, y:[-60,60], yl:yLab60, s:model(te12Idarc,te12Canny), leg:["TE12-IDARC","TE12-CANNY"], box:[334,237,453,272], time:[387,373]},
  {f:[589,975,9,172], x:[7,20], xt:teTicks, y:[-80,80], yl:yLab80test, s:test(te13Test), title:"TE13 - Test", box:[870,22,960,55], time:[922,153]},
  {f:[586,973,229,392], x:[7,20], xt:teTicks, y:[-80,80], yl:yLab80, s:model(te13Idarc,te13Canny), leg:["TE13-IDARC","TE13-CANNY"], box:[847,244,960,278], time:[902,376]},
  {f:[55,450,449,617], x:[7,20], xt:teTicks, y:[-100,100], yl:yLab100, s:test(te14Test), title:"TE14 - Test", box:[348,456,437,488], time:[400,595]},
  {f:[58,448,672,836], x:[7,20], xt:teTicks, y:[-100,100], yl:yLab100, s:model(te14Idarc,te14Canny), leg:["TE14-IDARC","TE14-CANNY"], box:[327,689,443,723], time:[382,819]},
  {f:[590,978,453,617], x:[7,20], xt:teTicks, y:[-120,120], yl:yLab120, s:test(te15Test), title:"TE15 - Test", box:[888,460,972,490], time:[940,599]},
  {f:[587,975,673,835], x:[7,20], xt:teTicks, y:[-120,120], yl:yLab120, s:model(te15Idarc,te15Canny), leg:["TE15-IDARC","TE15-CANNY"], box:[848,689,963,724], time:[908,824]},
  {f:[52,442,898,1061], x:[7,20], xt:teTicks, y:[-140,140], yl:yLab140, s:test(te17Test), title:"TE17-Test", box:[352,902,427,931], time:[393,1043]},
  {f:[52,442,1113,1277], x:[7,20], xt:teTicks, y:[-140,140], yl:yLab140, s:model(te17Idarc,te17Canny), leg:["TE17-IDARC","TE17-CANNY"], box:[321,1126,437,1162], time:[376,1261]},
  {f:[586,971,892,1057], x:[7,20], xt:teTicks, y:[-140,140], yl:yLab140test18, s:test(te18Test), title:"TE18-Test", box:[888,899,964,929], time:[922,1039]},
  {f:[584,969,1115,1278], x:[7,20], xt:teTicks, y:[-140,140], yl:yLab140, s:model(te18Idarc,te18Canny), leg:["TE18-IDARC","TE18-CANNY"], mono:true, box:[847,1119,959,1153], time:[900,1264]},
  {f:[56,438,1339,1503], x:[12,20], xt:tnTicks, y:[-120,120], yl:yLab120, s:test(tn3Test), title:"TN3-Test", box:[358,1346,428,1375], time:[398,1485]},
  {f:[63,444,1563,1727], x:[12,20], xt:tnTicks, y:[-120,120], yl:yLab120, s:model(tn3Idarc,tn3Canny), leg:["TN3-IDARC","TN3-CANNY"], box:[327,1579,435,1615], time:[379,1712]},
  {f:[593,978,1344,1510], x:[12,20], xt:tnTicks, y:[-140,140], yl:yLab140, s:test(tn4Test), title:"TN4-Test", box:[888,1349,962,1379], time:[934,1493]},
  {f:[593,978,1562,1728], x:[12,20], xt:tnTicks, y:[-140,140], yl:yLab140, s:model(tn4Idarc,tn4Canny), leg:["TN4-IDARC","TN4-CANNY"], box:[872,1582,978,1614], time:[908,1714]}
];

const page = document.getElementById("page");
const pts = a => { const o = []; for (let i = 0; i < a.length; i += 2) o.push({t: a[i], v: a[i + 1]}); return o; };

function el(tag, cls, css, text) {
  const e = document.createElement(tag);
  if (cls) e.className = cls;
  Object.assign(e.style, css || {});
  if (text != null) e.textContent = text;
  page.appendChild(e);
  return e;
}

panels.forEach(p => {
  const isModel = !!p.leg;
  const [fx0, fx1, fy0, fy1] = p.f;
  const w = fx1 - fx0, h = fy1 - fy0;
  const mL = 48, mR = 10, mT = 8, mB = 24;
  const step = (p.y[1] - p.y[0]) / 4;
  const yt = d3.range(p.y[0], p.y[1] + step / 2, step);
  const yMinor = d3.range(p.y[0] + step / 2, p.y[1], step);
  const xMinor = d3.range(p.x[0] + 0.5, p.x[1], 1);
  const fmt = new Map(yt.map((t, i) => [t, p.yl[i]]));
  const marks = [
    Plot.ruleY([-step, 0, step], {y: d => d, stroke: isModel ? "#3a3a3a" : "#111", strokeWidth: 1.4})
  ];
  p.s.forEach(s => marks.push(Plot.line(pts(s.data), {x: "t", y: "v", curve: "monotone-x", stroke: s.color, strokeWidth: s.width, strokeDasharray: s.dash, clip: true})));
  marks.push(
    Plot.ruleX(p.xt, {x: d => d, insetTop: h - 5, stroke: "#000"}),
    Plot.ruleX(xMinor, {x: d => d, insetTop: h - 3, stroke: "#000"}),
    Plot.ruleY(yt, {y: d => d, insetRight: w - 5, stroke: "#000"}),
    Plot.ruleY(yMinor, {y: d => d, insetRight: w - 3, stroke: "#000"})
  );
  if (isModel) marks.push(
    Plot.ruleX(p.xt, {x: d => d, insetBottom: h - 5, stroke: "#000"}),
    Plot.ruleX(xMinor, {x: d => d, insetBottom: h - 3, stroke: "#000"}),
    Plot.ruleY(yt, {y: d => d, insetLeft: w - 5, stroke: "#000"}),
    Plot.ruleY(yMinor, {y: d => d, insetLeft: w - 3, stroke: "#000"})
  );
  marks.push(
    Plot.frame({stroke: "#000", strokeWidth: 1.5}),
    Plot.axisX(p.xt, {tickSize: 0, tickPadding: 3, tickFormat: d => String(d)}),
    Plot.axisY(yt, {tickSize: 0, tickPadding: 5, tickFormat: d => fmt.get(d)})
  );
  const svg = Plot.plot({
    width: w + mL + mR, height: h + mT + mB,
    marginLeft: mL, marginRight: mR, marginTop: mT, marginBottom: mB,
    x: {domain: p.x, label: null},
    y: {domain: p.y, label: null},
    style: {fontFamily: "'Liberation Sans', Arial, sans-serif", fontSize: "12px", color: "#000", background: "transparent", overflow: "visible"},
    marks
  });
  const holder = el("div", "panel", {left: (fx0 - mL) + "px", top: (fy0 - mT) + "px"});
  holder.appendChild(svg);

  el("div", "ylab", {left: (fx0 - 34) + "px", top: ((fy0 + fy1) / 2) + "px"}, isModel ? "Base shear(kN)" : "Base shear (kN)");
  el("div", "tlabel", {left: p.time[0] + "px", top: p.time[1] + "px"}, "Time(s)");
  const [bx0, by0, bx1, by1] = p.box;
  const box = el("div", "box" + (isModel ? "" : " ttl"), {left: bx0 + "px", top: by0 + "px", width: (bx1 - bx0) + "px", height: (by1 - by0) + "px"}, isModel ? null : p.title);
  if (isModel) {
    const bh = by1 - by0;
    p.leg.forEach((name, i) => {
      const row = document.createElement("div");
      row.className = "row";
      row.style.top = (i === 0 ? bh * 0.28 : bh * 0.71) - 7 - 1.5 + "px";
      if (p.mono) { row.style.fontFamily = "'Liberation Mono', monospace"; row.style.fontSize = "11px"; }
      const s = p.s[i];
      row.innerHTML = `<svg width="26" height="6"><line x1="0" y1="3" x2="26" y2="3" stroke="${s.color}" stroke-width="1.4" ${s.dash ? `stroke-dasharray="${s.dash}"` : ""}/></svg><span>${name}</span>`;
      box.appendChild(row);
    });
  }
});
</script></body></html>
